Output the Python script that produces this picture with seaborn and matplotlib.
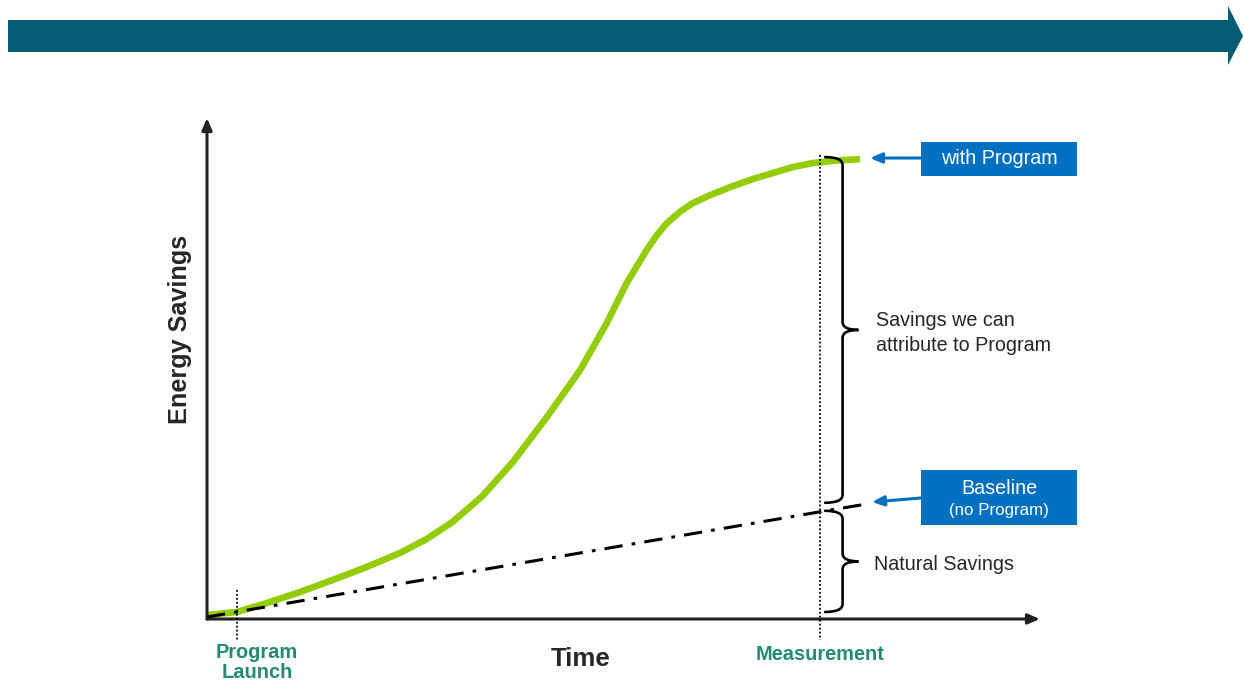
import numpy as np
import pandas as pd
import matplotlib
matplotlib.use("Agg")
import matplotlib.pyplot as plt
from matplotlib.path import Path
from matplotlib.patches import PathPatch, Rectangle, Polygon
import seaborn as sns

# ---- data (conceptual units: time 0..100, savings 0..100) ----
prog_time = [0, 3.6, 7.2, 11.2, 15.1, 19.2, 23.2, 26.4, 29.5, 33.1, 36.7, 40.8,
             44.8, 48.0, 50.4, 52.8, 54.0, 55.2, 56.8, 58.3, 60.4, 62.8, 65.5,
             67.9, 70.3, 72.7, 75.5, 78.4]
prog_savings = [0.8, 1.4, 3.2, 5.4, 7.8, 10.4, 13.2, 16.0, 19.4, 24.6, 31.3, 40.3,
                49.7, 59.1, 67.1, 73.7, 76.6, 79.0, 81.3, 83.0, 84.6, 86.2, 87.8,
                89.0, 90.2, 91.0, 91.5, 91.8]
base_time = [0, 73.6, 79.0]
base_savings = [0.4, 21.4, 22.9]
launch_time = 3.6
measure_time = 73.6

x_label = "Time"
y_label = "Energy Savings"
launch_label = ["Program", "Launch"]
measure_label = "Measurement"
with_label = "with Program"
base_label = "Baseline"
base_sub = "(no Program)"
attrib_label = ["Savings we can", "attribute to Program"]
natural_label = "Natural Savings"

GREEN = "#94cc08"
TEAL = "#238a73"
BLUE = "#0070c0"
BANNER = "#055d75"

sns.set_style("white")
plt.rcParams['font.family'] = ['Liberation Sans', 'DejaVu Sans']

W, H = 1244, 683
fig = plt.figure(figsize=(W / 100, H / 100), dpi=100)

def fx(px):
    return px / W

def fy(py):
    return 1 - py / H

# main axes: origin (207,619) to tips (1040,118)
ax = fig.add_axes([fx(207), fy(619), fx(1040) - fx(207), fy(118) - fy(619)])
ax.set_xlim(0, 100)
ax.set_ylim(0, 100)
ax.axis("off")

df_prog = pd.DataFrame({"t": prog_time, "s": prog_savings})
df_base = pd.DataFrame({"t": base_time, "s": base_savings})
sns.lineplot(data=df_prog, x="t", y="s", ax=ax, color=GREEN, lw=4.8, sort=False,
             solid_capstyle="butt", solid_joinstyle="round", zorder=3)
sns.lineplot(data=df_base, x="t", y="s", ax=ax, color="black", lw=2.2, sort=False,
             linestyle=(0, (6, 3, 1.2, 3)), zorder=4)

# axes arrows
arrow_kw = dict(arrowstyle="-|>,head_length=0.7,head_width=0.3", color="#222222", lw=2.2,
                shrinkA=0, shrinkB=0)
ax.annotate("", xy=(0, 1), xytext=(0, 0), xycoords="axes fraction",
            textcoords="axes fraction", arrowprops=arrow_kw, annotation_clip=False)
ax.annotate("", xy=(1, 0), xytext=(0, 0), xycoords="axes fraction",
            textcoords="axes fraction", arrowprops=arrow_kw, annotation_clip=False)

# vertical dotted markers
ax.plot([launch_time, launch_time], [5.8, -4.2], color="black", lw=1.3,
        linestyle=(0, (1, 1.2)), clip_on=False, zorder=5)
ax.plot([measure_time, measure_time], [92.6, -4.2], color="black", lw=1.3,
        linestyle=(0, (1, 1.2)), clip_on=False, zorder=5)

# braces
def brace(ax, x, y0, y1, w, t, r):
    ym = (y0 + y1) / 2
    verts = [(x - w, y1), (x, y1), (x, y1 - r),
             (x, ym + r), (x, ym), (x + t, ym),
             (x, ym), (x, ym - r),
             (x, y0 + r), (x, y0), (x - w, y0)]
    codes = [Path.MOVETO, Path.CURVE3, Path.CURVE3,
             Path.LINETO, Path.CURVE3, Path.CURVE3,
             Path.CURVE3, Path.CURVE3,
             Path.LINETO, Path.CURVE3, Path.CURVE3]
    ax.add_patch(PathPatch(Path(verts, codes), fill=False, lw=1.9, color="black",
                           clip_on=False, zorder=5, capstyle="round"))

brace(ax, 76.3, 23.2, 92.2, 2.1, 1.9, 1.6)
brace(ax, 76.3, 1.4, 21.6, 2.1, 1.9, 1.6)

# axis labels
fig.text(fx(180), fy(329), y_label, rotation=90, ha="center", va="center",
         fontsize=18.2, fontweight="bold")
fig.text(fx(581), fy(659), x_label, ha="center", va="center",
         fontsize=18.6, fontweight="bold")
fig.text(fx(257), fy(653), launch_label[0], ha="center", va="center", fontsize=14.4,
         fontweight="bold", color=TEAL)
fig.text(fx(257), fy(673), launch_label[1], ha="center", va="center", fontsize=14.4,
         fontweight="bold", color=TEAL)
fig.text(fx(820), fy(654), measure_label, ha="center", va="center", fontsize=14.4,
         fontweight="bold", color=TEAL)

# annotations
fig.text(fx(876), fy(321), attrib_label[0], ha="left", va="center", fontsize=14.2)
fig.text(fx(876), fy(345), attrib_label[1], ha="left", va="center", fontsize=14.2)
fig.text(fx(874), fy(565), natural_label, ha="left", va="center", fontsize=14.2)

# overlay axes for boxes and banner
ov = fig.add_axes([0, 0, 1, 1])
ov.set_xlim(0, 1)
ov.set_ylim(0, 1)
ov.axis("off")
ov.patch.set_alpha(0)

ov.add_patch(Polygon([(fx(8), fy(20)), (fx(1228), fy(20)), (fx(1228), fy(6)),
                      (fx(1243), fy(36)), (fx(1228), fy(65)), (fx(1228), fy(52)),
                      (fx(8), fy(52))], closed=True, color=BANNER, lw=0))

ov.add_patch(Rectangle((fx(921), fy(176)), fx(1077) - fx(921), fy(142) - fy(176),
                       color=BLUE, lw=0))
ov.text(fx(999), fy(159), with_label, ha="center", va="center", fontsize=14.2,
        color="white")
ov.add_patch(Rectangle((fx(921), fy(525)), fx(1077) - fx(921), fy(470) - fy(525),
                       color=BLUE, lw=0))
ov.text(fx(999), fy(488), base_label, ha="center", va="center", fontsize=14.2,
        color="white")
ov.text(fx(999), fy(511), base_sub, ha="center", va="center", fontsize=12.2,
        color="white")

blue_arrow = dict(arrowstyle="-|>,head_length=0.7,head_width=0.3", color=BLUE, lw=2.2,
                  shrinkA=0, shrinkB=0)
ov.annotate("", xy=(fx(870), fy(158)), xytext=(fx(921), fy(158)), arrowprops=blue_arrow)
ov.annotate("", xy=(fx(872), fy(502)), xytext=(fx(921), fy(498)), arrowprops=blue_arrow)

fig.savefig("out.png", dpi=100)
